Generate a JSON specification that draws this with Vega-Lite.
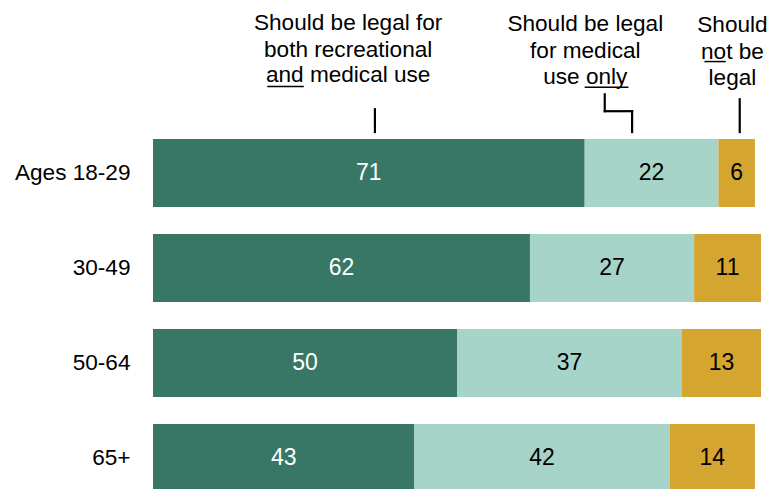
{
  "$schema": "https://vega.github.io/schema/vega-lite/v6.json",
  "padding": 0,
  "autosize": {"type": "pad"},
  "spacing": 0,
  "config": {"view": {"stroke": null}, "font": "Liberation Sans", "concat": {"spacing": 0}},
  "datasets": {
    "bars": [
      {"age": "Ages 18-29", "cat": "both", "value": 71, "ord": 1},
      {"age": "Ages 18-29", "cat": "medical", "value": 22, "ord": 2},
      {"age": "Ages 18-29", "cat": "not", "value": 6, "ord": 3},
      {"age": "30-49", "cat": "both", "value": 62, "ord": 1},
      {"age": "30-49", "cat": "medical", "value": 27, "ord": 2},
      {"age": "30-49", "cat": "not", "value": 11, "ord": 3},
      {"age": "50-64", "cat": "both", "value": 50, "ord": 1},
      {"age": "50-64", "cat": "medical", "value": 37, "ord": 2},
      {"age": "50-64", "cat": "not", "value": 13, "ord": 3},
      {"age": "65+", "cat": "both", "value": 43, "ord": 1},
      {"age": "65+", "cat": "medical", "value": 42, "ord": 2},
      {"age": "65+", "cat": "not", "value": 14, "ord": 3}
    ],
    "header": [
      {"t": "Should be legal for", "x": 32.1, "y": 30},
      {"t": "both recreational", "x": 32.1, "y": 57},
      {"t": "and medical use", "x": 32.1, "y": 83},
      {"t": "Should be legal", "x": 71.1, "y": 31},
      {"t": "for medical", "x": 71.1, "y": 58},
      {"t": "use only", "x": 71.1, "y": 85},
      {"t": "Should", "x": 95.3, "y": 32},
      {"t": "not be", "x": 95.3, "y": 59},
      {"t": "legal", "x": 95.3, "y": 86}
    ],
    "connectors": [
      {"x": 36.5, "x2": 36.5, "y": 110, "y2": 133},
      {"x": 74.3, "x2": 74.3, "y": 95, "y2": 112},
      {"x": 74.3, "x2": 78.8, "y": 112, "y2": 112},
      {"x": 78.8, "x2": 78.8, "y": 112, "y2": 133},
      {"x": 96.5, "x2": 96.5, "y": 100, "y2": 133}
    ],
    "underlines": [
      {"x": 18.8, "x2": 24.8, "y": 87, "y2": 87},
      {"x": 71.0, "x2": 78.2, "y": 88, "y2": 88},
      {"x": 90.7, "x2": 94.2, "y": 62, "y2": 62}
    ]
  },
  "vconcat": [
    {
      "width": 608,
      "height": 139,
      "layer": [
        {
          "data": {"name": "header"},
          "mark": {"type": "text", "fontSize": 22.6, "color": "#000000", "baseline": "alphabetic", "align": "center"},
          "encoding": {
            "x": {"field": "x", "type": "quantitative", "scale": {"domain": [0, 100]}, "axis": null},
            "y": {"field": "y", "type": "quantitative", "scale": {"domain": [0, 139], "reverse": true}, "axis": null},
            "text": {"field": "t"}
          }
        },
        {
          "data": {"name": "connectors"},
          "mark": {"type": "rule", "strokeWidth": 2.2, "color": "#000000", "strokeCap": "square"},
          "encoding": {
            "x": {"field": "x", "type": "quantitative"},
            "x2": {"field": "x2"},
            "y": {"field": "y", "type": "quantitative"},
            "y2": {"field": "y2"}
          }
        },
        {
          "data": {"name": "underlines"},
          "mark": {"type": "rule", "strokeWidth": 1.5, "color": "#000000"},
          "encoding": {
            "x": {"field": "x", "type": "quantitative"},
            "x2": {"field": "x2"},
            "y": {"field": "y", "type": "quantitative"},
            "y2": {"field": "y2"}
          }
        }
      ]
    },
    {
      "width": 608,
      "height": 353,
      "data": {"name": "bars"},
      "layer": [
        {
          "mark": {"type": "bar"},
          "encoding": {
            "x": {"field": "value", "type": "quantitative", "stack": "zero", "scale": {"domain": [0, 100]}, "axis": null},
            "y": {
              "field": "age", "type": "nominal",
              "sort": ["Ages 18-29", "30-49", "50-64", "65+"],
              "scale": {"paddingInner": 0.284, "paddingOuter": 0},
              "axis": {"title": null, "ticks": false, "domain": false, "labelFontSize": 22.6, "labelColor": "#000000", "labelPadding": 23, "minExtent": 153, "maxExtent": 153, "labelFont": "Liberation Sans"}
            },
            "color": {"field": "cat", "type": "nominal", "scale": {"domain": ["both", "medical", "not"], "range": ["#387766", "#a6d4c9", "#d4a62f"]}, "legend": null},
            "order": {"field": "ord", "type": "quantitative"}
          }
        },
        {
          "transform": [
            {"stack": "value", "groupby": ["age"], "sort": [{"field": "ord"}], "as": ["v0", "v1"]},
            {"fold": ["v0", "v1"], "as": ["k", "pos"]},
            {"aggregate": [{"op": "mean", "field": "pos", "as": "mid"}], "groupby": ["age", "cat", "value"]}
          ],
          "mark": {"type": "text", "fontSize": 23, "baseline": "middle", "align": "center"},
          "encoding": {
            "x": {"field": "mid", "type": "quantitative"},
            "y": {"field": "age", "type": "nominal", "sort": ["Ages 18-29", "30-49", "50-64", "65+"]},
            "text": {"field": "value", "type": "quantitative"},
            "color": {"condition": {"test": "datum.cat === 'both'", "value": "#ffffff"}, "value": "#000000"}
          }
        }
      ]
    }
  ]
}
